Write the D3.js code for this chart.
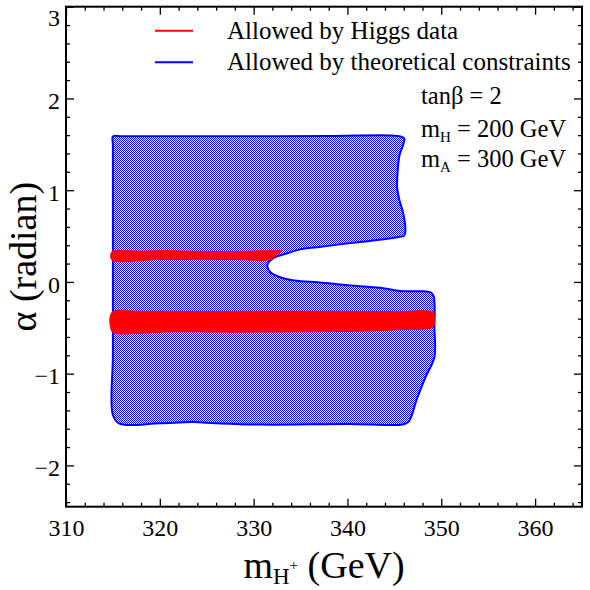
<!DOCTYPE html>
<html>
<head>
<meta charset="utf-8">
<script src="https://cdn.jsdelivr.net/npm/d3@7"></script>
<style>
html,body{margin:0;padding:0;background:#fff;}
svg{display:block;}
svg text{font-family:"Liberation Serif","Times New Roman",serif !important;fill:#000;}
</style>
</head>
<body>
<svg id="chart" width="590" height="590"></svg>
<script>
// ---- data ----
const xMajorTicks = [310, 320, 330, 340, 350, 360];
const xMinorTicks = d3.range(310, 365.01, 2);
const yMajorTicks = [-2, -1, 0, 1, 2, 3];
const yMinorTicks = [-2.4,-2.2,-2.0,-1.8,-1.6,-1.4,-1.2,-1.0,-0.8,-0.6,-0.4,-0.2,0,0.2,0.4,0.6,0.8,1.0,1.2,1.4,1.6,1.8,2.0,2.2,2.4,2.6,2.8,3.0];

// theoretical-constraint allowed region boundary (m_H+, alpha)
const theoryX = [315.0, 316.0, 322.0, 330.0, 338.0, 345.3, 346.05, 345.95, 345.55, 345.36, 345.30, 345.54, 345.94, 346.18, 346.05, 345.3, 342.1, 340.3, 336.8, 335.0, 333.6, 332.1, 331.46, 331.78, 333.17, 335.0, 336.8, 338.9, 341.4, 343.8, 345.65, 348.1, 348.9, 349.2, 349.27, 349.27, 348.31, 347.24, 346.93, 346.5, 345.9, 340.0, 331.0, 326.0, 323.5, 320.0, 315.7, 315.0, 315.0, 315.0, 315.0, 315.0];
const theoryY = [1.585, 1.588, 1.588, 1.588, 1.590, 1.592, 1.565, 1.50, 1.38, 1.22, 1.03, 0.89, 0.75, 0.56, 0.505, 0.488, 0.444, 0.423, 0.379, 0.357, 0.313, 0.259, 0.183, 0.106, 0.040, 0.008, -0.003, -0.025, -0.047, -0.069, -0.100, -0.102, -0.115, -0.16, -0.50, -0.82, -1.04, -1.323, -1.432, -1.525, -1.553, -1.548, -1.555, -1.540, -1.528, -1.540, -1.545, -1.45, -0.8, 0.0, 0.8, 1.50];

// Higgs-data allowed bands
const higgsUpperX = [314.9, 318.0, 320.5, 323.0, 328.0, 332.3, 333.0, 332.5, 331.9, 328.0, 320.0, 314.9];
const higgsUpperY = [0.328, 0.336, 0.342, 0.336, 0.333, 0.342, 0.338, 0.300, 0.248, 0.243, 0.243, 0.240];
const higgsLowerX = [314.9, 318.0, 325.0, 332.0, 340.0, 345.0, 349.2, 349.3, 349.1, 346.0, 342.0, 335.0, 328.0, 321.0, 318.0, 315.5, 314.9];
const higgsLowerY = [-0.330, -0.320, -0.322, -0.318, -0.320, -0.324, -0.332, -0.400, -0.492, -0.518, -0.536, -0.545, -0.548, -0.546, -0.560, -0.565, -0.540];

const legendLabels = ["Allowed by Higgs data", "Allowed by theoretical constraints"];
const legendColors = ["#ff0000", "#0000ff"];

// ---- chart ----
const svg = d3.select("#chart");
const W = 590, H = 590;
const pL = 66, pR = 582, pT = 6.7, pB = 506.7;
const serif = '"Liberation Serif","Times New Roman",serif';
const x = d3.scaleLinear().domain([310, 365]).range([pL, pR]);
const y = d3.scaleLinear().domain([-2.45, 3]).range([pB, pT]);

svg.append("rect").attr("width", W).attr("height", H).attr("fill", "#fff");

const defs = svg.append("defs");
const pat = defs.append("pattern").attr("id", "chk").attr("patternUnits", "userSpaceOnUse")
  .attr("width", 2).attr("height", 2).attr("x", 0).attr("y", 0);
pat.append("rect").attr("width", 2).attr("height", 2).attr("fill", "#ffffff").attr("shape-rendering", "crispEdges");
pat.append("rect").attr("x", 0).attr("y", 0).attr("width", 1).attr("height", 1).attr("fill", "#0000ff").attr("shape-rendering", "crispEdges");
pat.append("rect").attr("x", 1).attr("y", 1).attr("width", 1).attr("height", 1).attr("fill", "#0000ff").attr("shape-rendering", "crispEdges");

const theory = theoryX.map((v, i) => [v, theoryY[i]]);
const upper = higgsUpperX.map((v, i) => [v, higgsUpperY[i]]);
const lower = higgsLowerX.map((v, i) => [v, higgsLowerY[i]]);

const area = d3.line().x(d => x(d[0])).y(d => y(d[1])).curve(d3.curveCatmullRomClosed.alpha(0.5));

svg.append("path").attr("d", area(theory)).attr("fill", "url(#chk)").attr("shape-rendering", "crispEdges");
svg.append("path").attr("d", area(theory)).attr("fill", "none").attr("stroke", "#0000ff").attr("stroke-width", 2);
svg.append("path").attr("d", area(upper)).attr("fill", "#ff0000").attr("stroke", "#ff0000").attr("stroke-width", 1);
svg.append("path").attr("d", area(lower)).attr("fill", "#ff0000").attr("stroke", "#ff0000").attr("stroke-width", 1);

// axes
function styleAxis(g) {
  g.attr("font-family", serif).attr("font-size", 24);
  g.select(".domain").remove();
  g.selectAll(".tick line").attr("stroke", "#000").attr("stroke-width", 1.3);
  g.selectAll("text").style("font-family", serif).style("font-size", "24px").attr("fill", "#000");
}
const xMinorOnly = xMinorTicks.filter(v => v % 10 !== 0);
const yMinorOnly = yMinorTicks.filter(v => Math.abs(v - Math.round(v)) > 1e-6);

svg.append("g").attr("transform", `translate(0,${pB})`)
  .call(d3.axisBottom(x).tickValues(xMajorTicks).tickSize(-8).tickPadding(12).tickFormat(d3.format("d"))).call(styleAxis);
svg.append("g").attr("transform", `translate(0,${pB})`)
  .call(d3.axisBottom(x).tickValues(xMinorOnly).tickSize(-4).tickFormat("")).call(styleAxis);
svg.append("g").attr("transform", `translate(0,${pT})`)
  .call(d3.axisTop(x).tickValues(xMajorTicks).tickSize(-8).tickFormat("")).call(styleAxis);
svg.append("g").attr("transform", `translate(0,${pT})`)
  .call(d3.axisTop(x).tickValues(xMinorOnly).tickSize(-4).tickFormat("")).call(styleAxis);

const gy = svg.append("g").attr("transform", `translate(${pL},0)`)
  .call(d3.axisLeft(y).tickValues(yMajorTicks).tickSize(-8).tickPadding(6).tickFormat(d3.format("d"))).call(styleAxis);
gy.selectAll("text").attr("dy", "0.42em");
gy.selectAll(".tick").filter(d => d === 3).select("text").attr("dy", "0.78em");
svg.append("g").attr("transform", `translate(${pL},0)`)
  .call(d3.axisLeft(y).tickValues(yMinorOnly).tickSize(-4).tickFormat("")).call(styleAxis);
svg.append("g").attr("transform", `translate(${pR},0)`)
  .call(d3.axisRight(y).tickValues(yMajorTicks).tickSize(-8).tickFormat("")).call(styleAxis);
svg.append("g").attr("transform", `translate(${pR},0)`)
  .call(d3.axisRight(y).tickValues(yMinorOnly).tickSize(-4).tickFormat("")).call(styleAxis);

svg.append("rect").attr("x", pL).attr("y", pT).attr("width", pR - pL).attr("height", pB - pT)
  .attr("fill", "none").attr("stroke", "#000").attr("stroke-width", 2);

// axis titles
const xt = svg.append("text").attr("x", (pL + pR) / 2).attr("y", 578).attr("text-anchor", "middle").attr("font-size", 38);
xt.append("tspan").text("m");
xt.append("tspan").attr("font-size", 23).attr("dy", 6).text("H");
xt.append("tspan").attr("font-size", 15).attr("dy", -14).text("+");
xt.append("tspan").attr("dy", 8).text(" (GeV)");

svg.append("text").attr("transform", `translate(36,${(pT + pB) / 2}) rotate(-90)`)
  .attr("text-anchor", "middle").attr("font-size", 38).text("α (radian)");

// legend
const legY = [30.7, 62.3];
legendLabels.forEach((lab, i) => {
  svg.append("line").attr("x1", 155).attr("x2", 193).attr("y1", legY[i]).attr("y2", legY[i])
    .attr("stroke", legendColors[i]).attr("stroke-width", 2);
  svg.append("text").attr("x", 227).attr("y", legY[i] + 8).attr("font-size", 25).text(lab);
});

// annotations
svg.append("text").attr("x", 421).attr("y", 104).attr("font-size", 24.5).text("tanβ = 2");
const a1 = svg.append("text").attr("x", 421).attr("y", 137).attr("font-size", 24.5);
a1.append("tspan").text("m");
a1.append("tspan").attr("font-size", 15).attr("dy", 5).text("H");
a1.append("tspan").attr("dy", -5).text(" = 200 GeV");
const a2 = svg.append("text").attr("x", 421).attr("y", 167).attr("font-size", 24.5);
a2.append("tspan").text("m");
a2.append("tspan").attr("font-size", 15).attr("dy", 5).text("A");
a2.append("tspan").attr("dy", -5).text(" = 300 GeV");
</script>
</body>
</html>
